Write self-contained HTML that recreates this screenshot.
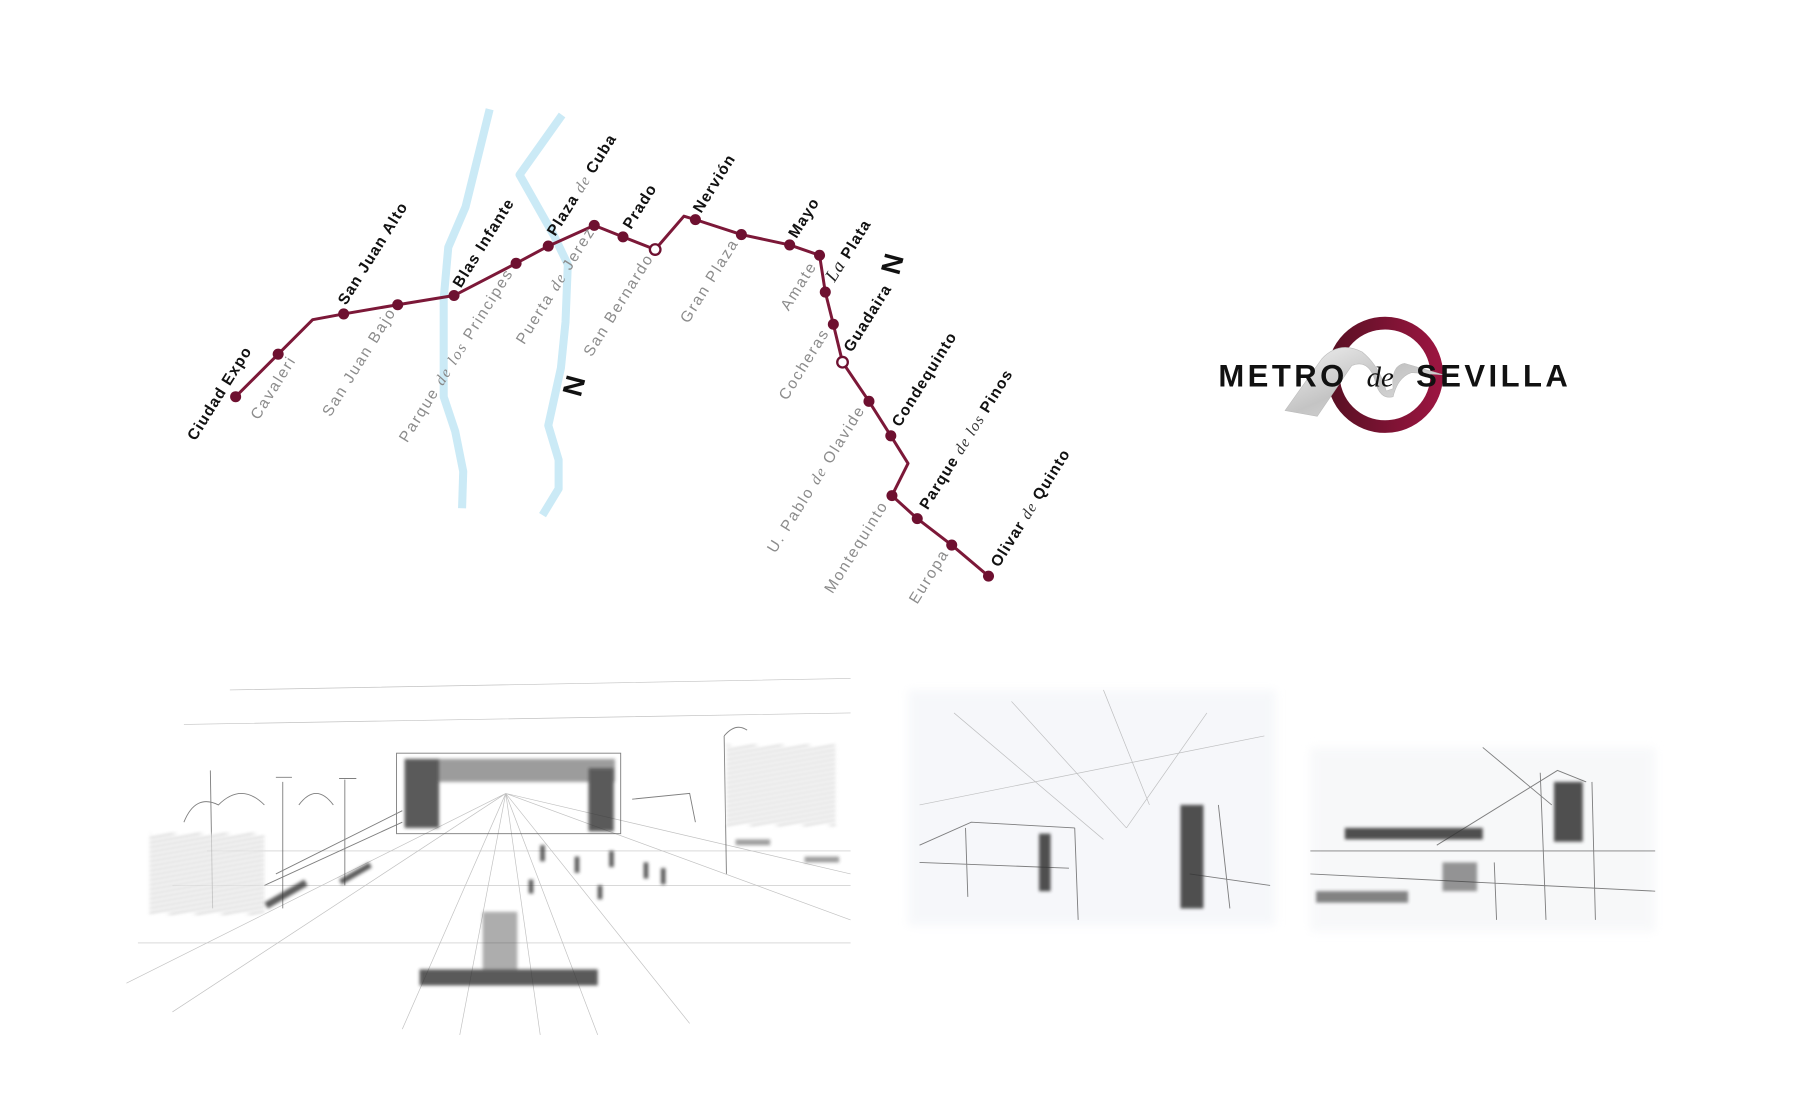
<!DOCTYPE html>
<html><head><meta charset="utf-8"><style>
html,body{margin:0;padding:0;background:#fff;width:1800px;height:1120px;overflow:hidden}
svg{display:block}
.b{font-family:"Liberation Sans",sans-serif;font-weight:bold;font-size:13.5px;fill:#111;letter-spacing:1px}
.g{font-family:"Liberation Sans",sans-serif;font-size:13.5px;fill:#8c8c8c;letter-spacing:1.6px}
.i{font-family:"Liberation Serif",serif;font-style:italic;font-weight:normal;fill:#888}
.pen{stroke:#555;fill:none;stroke-width:0.8;opacity:.75}
.lt{stroke:#999;fill:none;stroke-width:0.6;opacity:.6}
</style></head><body>
<svg width="1800" height="1120" viewBox="0 0 1566 974" preserveAspectRatio="none" xmlns="http://www.w3.org/2000/svg">
<defs><filter id="bl"><feGaussianBlur stdDeviation="1.5"/></filter><filter id="bl2"><feGaussianBlur stdDeviation="4"/></filter>
<pattern id="hatch" width="4" height="4" patternUnits="userSpaceOnUse" patternTransform="rotate(80)"><rect width="4" height="4" fill="#fff"/><line x1="0" y1="0" x2="0" y2="4" stroke="#333" stroke-width="1.6"/></pattern>
<linearGradient id="rg" x1="0" x2="1"><stop offset="0" stop-color="#5a1024"/><stop offset="1" stop-color="#9a1540"/></linearGradient>
<linearGradient id="sg" x1="0" x2="1" y1="0" y2="1"><stop offset="0" stop-color="#f2f2f2"/><stop offset="0.5" stop-color="#c4c4c4"/><stop offset="1" stop-color="#e6e6e6"/></linearGradient></defs>
<!-- rivers -->
<g stroke="#cbeaf6" stroke-width="7" fill="none" stroke-linejoin="round">
<path d="M426,95 L405,180 L390,215 L386,260 L386,345 L396,375 L403,410 L402,442"/>
<path d="M489,100 L452,152 L482,205 L494,230 L492,280 L488,320 L477,370 L486,400 L486,425 L472,448"/>
</g>
<!-- line -->
<polyline fill="none" stroke="#7c1838" stroke-width="2.6" stroke-linejoin="round" points="205,345 242,308 272,278 299,273 346,265 395,257 449,229 477,214 517,196 542,206 570,217 595,188 605,191 645,204 687,213 713,222 718,254 725,282 733,315 756,349 775,379 790,403 776,431 798,451 828,474 860,501"/>
<g fill="#6e1030">
<circle cx="205" cy="345" r="4.8"/><circle cx="242" cy="308" r="4.8"/><circle cx="299" cy="273" r="4.8"/><circle cx="346" cy="265" r="4.8"/><circle cx="395" cy="257" r="4.8"/><circle cx="449" cy="229" r="4.8"/><circle cx="477" cy="214" r="4.8"/><circle cx="517" cy="196" r="4.8"/><circle cx="542" cy="206" r="4.8"/><circle cx="605" cy="191" r="4.8"/><circle cx="645" cy="204" r="4.8"/><circle cx="687" cy="213" r="4.8"/><circle cx="713" cy="222" r="4.8"/><circle cx="718" cy="254" r="4.8"/><circle cx="725" cy="282" r="4.8"/><circle cx="756" cy="349" r="4.8"/><circle cx="775" cy="379" r="4.8"/><circle cx="776" cy="431" r="4.8"/><circle cx="798" cy="451" r="4.8"/><circle cx="828" cy="474" r="4.8"/><circle cx="860" cy="501" r="4.8"/>
</g>
<circle cx="570" cy="217" r="4.6" fill="#fff" stroke="#6e1030" stroke-width="2"/>
<circle cx="733" cy="315" r="4.6" fill="#fff" stroke="#6e1030" stroke-width="2"/>
<!-- black labels -->
<g class="b">
<text transform="translate(170,384) rotate(-58)">Ciudad Expo</text>
<text transform="translate(301,266) rotate(-58)">San Juan Alto</text>
<text transform="translate(401,251) rotate(-58)">Blas Infante</text>
<text transform="translate(483,206) rotate(-58)">Plaza <tspan class="i">de</tspan> Cuba</text>
<text transform="translate(549,200) rotate(-58)">Prado</text>
<text transform="translate(610,186) rotate(-58)">Nervión</text>
<text transform="translate(693,208) rotate(-58)">Mayo</text>
<text transform="translate(726,246) rotate(-58)"><tspan class="i" style="fill:#222;font-size:16px">La</tspan> Plata</text>
<text transform="translate(741,307) rotate(-58)">Guadaira</text>
<text transform="translate(783,372) rotate(-58)">Condequinto</text>
<text transform="translate(807,444) rotate(-58)">Parque <tspan class="i" style="fill:#333">de los</tspan> Pinos</text>
<text transform="translate(869,494) rotate(-58)">Olivar <tspan class="i" style="fill:#333">de</tspan> Quinto</text>
</g>
<!-- grey labels -->
<g class="g" text-anchor="end">
<text transform="translate(258,313) rotate(-58)">Cavaleri</text>
<text transform="translate(345,271) rotate(-58)">San Juan Bajo</text>
<text transform="translate(447,237) rotate(-58)">Parque <tspan class="i">de los</tspan> Principes</text>
<text transform="translate(518,201) rotate(-58)">Puerta <tspan class="i">de</tspan> Jerez</text>
<text transform="translate(569,224) rotate(-58)">San Bernardo</text>
<text transform="translate(643,211) rotate(-58)">Gran Plaza</text>
<text transform="translate(711,231) rotate(-58)">Amate</text>
<text transform="translate(722,289) rotate(-58)">Cocheras</text>
<text transform="translate(753,356) rotate(-58)">U. Pablo <tspan class="i">de</tspan> Olavide</text>
<text transform="translate(773,439) rotate(-58)">Montequinto</text>
<text transform="translate(826,481) rotate(-58)">Europa</text>
</g>
<!-- N symbols -->
<g font-family="Liberation Sans,sans-serif" font-weight="bold" font-size="24" fill="#111">
<text transform="translate(505,346) rotate(-75)">N</text>
<text transform="translate(782,240) rotate(-75)">N</text>
</g>
<!-- logo -->
<circle cx="1205" cy="326" r="45" fill="none" stroke="url(#rg)" stroke-width="11"/>
<path d="M1118,357 L1150,312 Q1165,296 1185,306 Q1200,318 1206,340 L1212,338 Q1210,318 1222,316 L1256,326 L1228,324 Q1216,328 1212,345 Q1200,348 1196,330 Q1190,312 1176,318 L1146,362 Z" fill="url(#sg)" stroke="#bbb" stroke-width="0.5"/>
<text x="1060" y="336" font-family="Liberation Sans,sans-serif" font-weight="bold" font-size="27" fill="#111" letter-spacing="3">METRO</text>
<text x="1189" y="336" font-family="Liberation Serif,serif" font-style="italic" font-size="25" fill="#111">de</text>
<text x="1232" y="336" font-family="Liberation Sans,sans-serif" font-weight="bold" font-size="27" fill="#111" letter-spacing="3">SEVILLA</text>
<!-- sketch 1 -->
<g>
<g class="lt">
<path d="M110,855 L440,690 M150,880 L440,690 M350,895 L440,690 M400,900 L440,690 M470,900 L440,690 M520,900 L440,690 M600,890 L440,690 M740,800 L440,690 M740,760 L440,690"/>
<path d="M180,740 L740,740 M150,770 L740,770 M120,820 L740,820 M200,600 L740,590 M160,630 L740,620"/>
</g>
<g class="pen">
<rect x="345" y="655" width="195" height="70"/>
<path d="M183,670 L185,790 M246,680 L246,790 M300,678 L300,770 M240,676 L254,676 M295,677 L310,677"/>
<path d="M160,715 Q170,690 190,700 Q210,680 230,700 M260,700 Q275,680 290,700"/>
<path d="M630,640 L632,760 M630,640 Q640,628 650,635"/>
<path d="M550,695 L600,690 L605,715"/>
<path d="M240,760 L350,705 M230,770 L350,715"/>
</g>
<rect x="130" y="725" width="100" height="70" fill="url(#hatch)" opacity=".7" filter="url(#bl)"/>
<rect x="632" y="648" width="95" height="70" fill="url(#hatch)" opacity=".65" filter="url(#bl)"/>
<g fill="#333" filter="url(#bl)" opacity=".8">
<rect x="352" y="660" width="30" height="60"/><rect x="355" y="660" width="180" height="20" opacity=".6"/><rect x="512" y="668" width="22" height="55"/>
<rect x="365" y="843" width="155" height="14"/><rect x="420" y="793" width="30" height="50" opacity=".5"/>
<rect x="230" y="785" width="40" height="6" transform="rotate(-30 230 785)"/><rect x="295" y="765" width="30" height="5" transform="rotate(-30 295 765)"/>
<rect x="640" y="730" width="30" height="5" opacity=".6"/><rect x="700" y="745" width="30" height="5" opacity=".6"/>
<rect x="470" y="735" width="4" height="14"/><rect x="500" y="745" width="4" height="14"/><rect x="530" y="740" width="4" height="14"/><rect x="560" y="750" width="4" height="14"/><rect x="575" y="755" width="4" height="14"/><rect x="460" y="765" width="4" height="12"/><rect x="520" y="770" width="4" height="12"/>
</g>
</g>
<!-- sketch 2 -->
<g>
<rect x="790" y="600" width="320" height="205" fill="#eef1f6" opacity=".5" filter="url(#bl2)"/>
<g class="lt"><path d="M830,620 L960,730 M880,610 L980,720 M960,600 L1000,700 M1050,620 L980,720 M800,700 L1100,640"/></g>
<g class="pen"><path d="M800,735 L845,715 L935,720 M800,750 L930,755 M840,720 L842,780 M935,720 L938,800 M1060,700 L1070,790 M1035,760 L1105,770"/></g>
<g fill="#333" filter="url(#bl)" opacity=".85"><rect x="904" y="725" width="10" height="50"/><rect x="1027" y="700" width="20" height="90"/></g>
</g>
<!-- sketch 3 -->
<g>
<rect x="1140" y="650" width="300" height="160" fill="#f0f2f5" opacity=".5" filter="url(#bl2)"/>
<g class="pen">
<path d="M1250,735 L1355,670 L1380,680 M1340,672 L1345,800 M1385,680 L1388,800 M1140,740 L1440,740 M1140,760 L1440,775 M1300,750 L1302,800 M1290,650 L1350,700"/>
</g>
<g fill="#333" filter="url(#bl)" opacity=".85">
<rect x="1352" y="680" width="25" height="52"/><rect x="1170" y="720" width="120" height="10"/><rect x="1145" y="775" width="80" height="10" opacity=".7"/><rect x="1255" y="750" width="30" height="25" opacity=".6"/>
</g>
</g>
</svg>
</body></html>
